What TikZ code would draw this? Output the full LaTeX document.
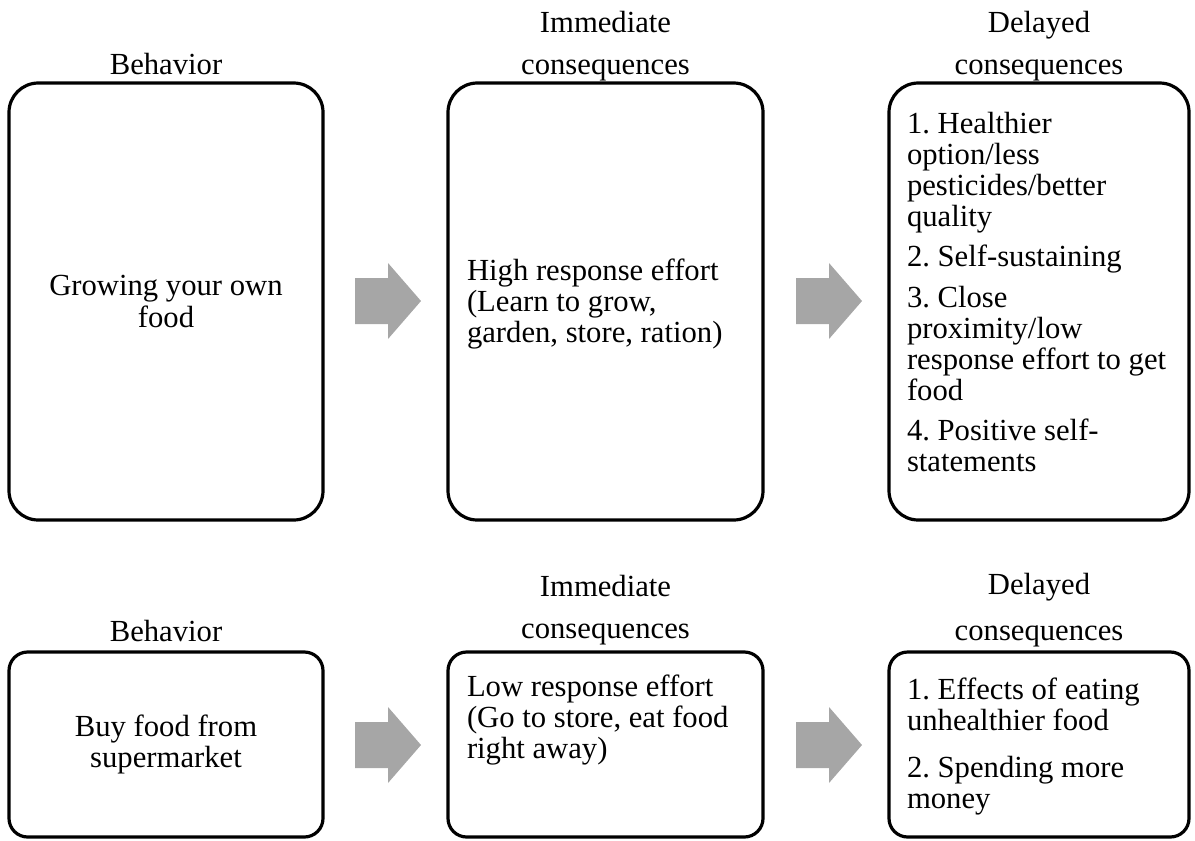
\documentclass[tikz,border=0pt]{standalone}
\usepackage{fontspec}
\setmainfont{Liberation Serif}
\definecolor{arrowgray}{RGB}{166,166,166}
\begin{document}
\frenchspacing
\begin{tikzpicture}[x=0.75pt,y=-0.75pt,
  every node/.style={inner sep=0pt, outer sep=0pt, font=\fontsize{23pt}{23.3pt}\selectfont},
  bigbox/.style={draw=black, line width=2.4pt, rounded corners=22pt, anchor=north west, minimum height=327.75pt},
  smallbox/.style={draw=black, line width=2.4pt, rounded corners=14pt, anchor=north west, minimum height=138.75pt},
  title/.style={anchor=base, align=center},
  blockarrow/.style={fill=arrowgray}
]
\useasboundingbox (0,0) rectangle (1195,840);
% ---------- top row ----------
\node[bigbox, minimum width=235.5pt] (b1) at (9,83) {};
\node[bigbox, minimum width=236.25pt] (b2) at (448,83) {};
\node[bigbox, minimum width=225pt] (b3) at (889,83) {};
\node[title] (t1) at (166,74) {Behavior};
\node[title] (t2) at (605.5,74) {Immediate\\[8pt]consequences};
\node[title] (t3) at (1039,74) {Delayed\\[8pt]consequences};
\node[align=center] (x1) at (b1.center) {Growing your own\\food};
\node[align=left, anchor=west] (x2) at (467,304) {High response effort\\(Learn to grow,\\garden, store, ration)};
\node[align=left, anchor=north west] (x3) at (907,112) {1. Healthier\\option/less\\pesticides/better\\quality\\[7pt]2. Self-sustaining\\[7pt]3. Close\\proximity/low\\response effort to get\\food\\[7pt]4. Positive self-\\statements};
\coordinate (a1) at (355,301);
\fill[blockarrow] (a1) -- ++(0,-23) -- ++(33,0) -- ++(0,-15) -- ++(33,38) -- ++(-33,38) -- ++(0,-15) -- ++(-33,0) -- cycle;
\coordinate (a2) at (796,301);
\fill[blockarrow] (a2) -- ++(0,-23) -- ++(33,0) -- ++(0,-15) -- ++(33,38) -- ++(-33,38) -- ++(0,-15) -- ++(-33,0) -- cycle;
% ---------- bottom row ----------
\node[smallbox, minimum width=235.5pt] (c1) at (9,652) {};
\node[smallbox, minimum width=236.25pt] (c2) at (448,652) {};
\node[smallbox, minimum width=225pt] (c3) at (889,652) {};
\node[title] (u1) at (166,641) {Behavior};
\node[title] (u2) at (605.5,638) {Immediate\\[8pt]consequences};
\node[title] (u3) at (1039,640) {Delayed\\[11pt]consequences};
\node[align=center] (y1) at (c1.center) {Buy food from\\supermarket};
\node[align=left, anchor=north west] (y2) at (467,675) {Low response effort\\(Go to store, eat food\\right away)};
\node[align=left, anchor=north west] (y3) at (907,678) {1. Effects of eating\\unhealthier food\\[12pt]2. Spending more\\money};
\coordinate (a3) at (355,745);
\fill[blockarrow] (a3) -- ++(0,-23) -- ++(33,0) -- ++(0,-15) -- ++(33,38) -- ++(-33,38) -- ++(0,-15) -- ++(-33,0) -- cycle;
\coordinate (a4) at (796,745);
\fill[blockarrow] (a4) -- ++(0,-23) -- ++(33,0) -- ++(0,-15) -- ++(33,38) -- ++(-33,38) -- ++(0,-15) -- ++(-33,0) -- cycle;
\end{tikzpicture}
\end{document}
